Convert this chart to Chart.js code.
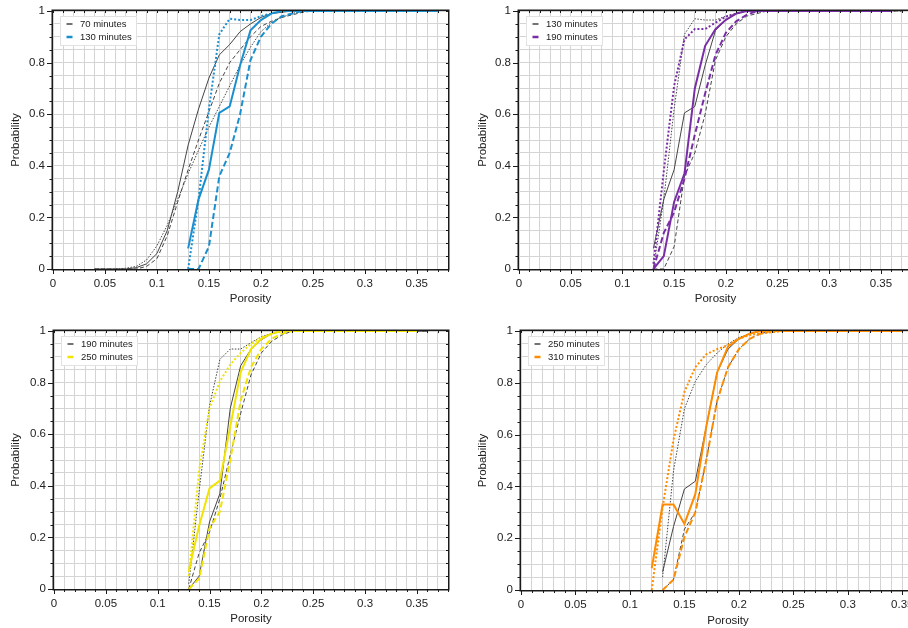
<!DOCTYPE html>
<html>
<head>
<meta charset="utf-8">
<script src="https://cdn.jsdelivr.net/npm/chart.js@4.4.1/dist/chart.umd.min.js"></script>
<style>
  html, body { margin: 0; padding: 0; background: #fff; overflow: hidden; }
  body { position: relative; width: 908px; height: 628px; }
  canvas { position: absolute; }
</style>
</head>
<body>
<canvas id="p1" width="460" height="310" style="left:0;top:0"></canvas>
<canvas id="p2" width="470" height="310" style="left:466px;top:0"></canvas>
<canvas id="p3" width="460" height="310" style="left:0;top:320px"></canvas>
<canvas id="p4" width="480" height="310" style="left:466px;top:320px"></canvas>
<script>
const N = null;

const porosity = [0.04, 0.05, 0.06, 0.07, 0.08, 0.09, 0.10, 0.11, 0.12, 0.13, 0.14, 0.15, 0.16, 0.17, 0.18, 0.19, 0.20, 0.21, 0.22, 0.23, 0.24, 0.25, 0.26, 0.27, 0.28, 0.29, 0.30, 0.31, 0.32, 0.33, 0.34, 0.35, 0.36, 0.37];

// 70 minutes
const solid70 = [0, 0, 0, 0, 0.005, 0.02, 0.06, 0.15, 0.30, 0.48, 0.62, 0.74, 0.83, 0.87, 0.92, 0.95, 0.975, 0.99, 0.995, 1, 1, 1, 1, 1, 1, 1, 1, 1, 1, 1, 1, 1, 1, 1];
const dashed70 = [0, 0, 0, 0, 0, 0.01, 0.04, 0.13, 0.26, 0.385, 0.50, 0.61, 0.72, 0.80, 0.85, 0.90, 0.94, 0.96, 0.975, 0.985, 0.995, 1, 1, 1, 1, 1, 1, 1, 1, 1, 1, 1, 1, 1];
const dotted70 = [0, 0, 0, 0.003, 0.01, 0.035, 0.09, 0.17, 0.27, 0.37, 0.46, 0.55, 0.63, 0.71, 0.79, 0.86, 0.92, 0.955, 0.975, 0.99, 1, 1, 1, 1, 1, 1, 1, 1, 1, 1, 1, 1, 1, 1];

// 130 minutes
const solid130 = [N, N, N, N, N, N, N, N, N, 0.08, 0.27, 0.385, 0.605, 0.63, 0.79, 0.925, 0.965, 0.99, 1, 1, 1, 1, 1, 1, 1, 1, 1, 1, 1, 1, 1, 1, 1, N];
const dashed130 = [N, N, N, N, N, N, N, N, N, 0, 0, 0.087, 0.36, 0.45, 0.60, 0.81, 0.90, 0.95, 0.98, 0.99, 1, 1, 1, 1, 1, 1, 1, 1, 1, 1, 1, 1, 1, 1];
const dotted130 = [N, N, N, N, N, N, N, N, N, 0, 0.27, 0.62, 0.91, 0.97, 0.965, 0.965, 0.98, 0.99, 1, 1, 1, 1, 1, 1, 1, 1, 1, 1, 1, 1, 1, 1, 1, 1];

// 190 minutes
const solid190 = [N, N, N, N, N, N, N, N, N, 0, 0.05, 0.26, 0.37, 0.70, 0.865, 0.93, 0.966, 0.99, 1, 1, 1, 1, 1, 1, 1, 1, 1, 1, 1, 1, 1, 1, 1, N];
const dashed190 = [N, N, N, N, N, N, N, N, N, 0, 0.14, 0.22, 0.35, 0.52, 0.68, 0.83, 0.915, 0.96, 0.985, 1, 1, 1, 1, 1, 1, 1, 1, 1, 1, 1, 1, 1, 1, N];
const dotted190 = [N, N, N, N, N, N, N, N, N, 0.02, 0.38, 0.71, 0.89, 0.93, 0.93, 0.955, 0.978, 0.99, 1, 1, 1, 1, 1, 1, 1, 1, 1, 1, 1, 1, 1, 1, 1, N];

// 250 minutes
const solid250 = [N, N, N, N, N, N, N, N, N, 0.07, 0.245, 0.39, 0.42, 0.63, 0.84, 0.93, 0.97, 0.99, 1, 1, 1, 1, 1, 1, 1, 1, 1, 1, 1, 1, 1, 1, N, N];
const dashed250 = [N, N, N, N, N, N, N, N, N, 0, 0.04, 0.235, 0.30, 0.50, 0.73, 0.86, 0.93, 0.97, 0.99, 1, 1, 1, 1, 1, 1, 1, 1, 1, 1, 1, 1, 1, N, N];
const dotted250 = [N, N, N, N, N, N, N, N, N, 0.05, 0.46, 0.70, 0.805, 0.87, 0.915, 0.95, 0.975, 0.99, 1, 1, 1, 1, 1, 1, 1, 1, 1, 1, 1, 1, 1, 1, N, N];

// 310 minutes
const solid310 = [N, N, N, N, N, N, N, N, 0.084, 0.33, 0.33, 0.255, 0.37, 0.63, 0.84, 0.94, 0.97, 0.99, 1, 1, 1, 1, 1, 1, 1, 1, 1, 1, 1, 1, 1, 1, N, N];
const dashed310 = [N, N, N, N, N, N, N, N, N, 0, 0.04, 0.205, 0.30, 0.50, 0.73, 0.86, 0.93, 0.97, 0.99, 1, 1, 1, 1, 1, 1, 1, 1, 1, 1, 1, 1, 1, N, N];
const dotted310 = [N, N, N, N, N, N, N, N, 0, 0.32, 0.58, 0.765, 0.86, 0.91, 0.93, 0.945, 0.97, 0.985, 0.99, 0.995, 1, 1, 1, 1, 1, 1, 1, 1, 1, 1, 1, 1, N, N];

const runs = {
  70: { label: "70 minutes", solid: solid70, dashed: dashed70, dotted: dotted70 },
  130: { label: "130 minutes", solid: solid130, dashed: dashed130, dotted: dotted130 },
  190: { label: "190 minutes", solid: solid190, dashed: dashed190, dotted: dotted190 },
  250: { label: "250 minutes", solid: solid250, dashed: dashed250, dotted: dotted250 },
  310: { label: "310 minutes", solid: solid310, dashed: dashed310, dotted: dotted310 },
};

const GRAY = "#444444";
const FONT = "'Liberation Sans', Arial, Helvetica, sans-serif";

function toPoints(vals) {
  return porosity.map((p, i) => ({ x: p, y: vals[i] }));
}

function lineSets(run, color, thick) {
  const w = thick ? 2 : 1;
  const dash = thick ? [6, 3] : [4, 2.5];
  const dot = thick ? [2, 2] : [1.5, 1.5];
  const base = { borderColor: color, borderWidth: w, pointRadius: 0, fill: false, tension: 0, spanGaps: false };
  return [
    { ...base, label: run.label, data: toPoints(run.solid) },
    { ...base, label: run.label + " dashed", data: toPoints(run.dashed), borderDash: dash },
    { ...base, label: run.label + " dotted", data: toPoints(run.dotted), borderDash: dot },
  ];
}

const framePlugin = {
  id: "frame",
  afterDraw(chart, args, opts) {
    const { ctx, chartArea: a, scales } = chart;
    const x = scales.x, y = scales.y;
    ctx.save();
    ctx.strokeStyle = "#1a1a1a";
    ctx.lineWidth = 1;
    ctx.beginPath();
    x.ticks.forEach((t, i) => {
      const px = Math.round(x.getPixelForTick(i)) + 0.5;
      const major = Math.round(t.value * 100) % 5 === 0;
      ctx.moveTo(px, a.bottom);
      ctx.lineTo(px, a.bottom + (major ? 5 : 3));
      ctx.moveTo(px, a.top);
      ctx.lineTo(px, a.top + 2);
    });
    y.ticks.forEach((t, i) => {
      const py = Math.round(y.getPixelForTick(i)) + 0.5;
      const major = Math.round(t.value * 100) % 20 === 0;
      ctx.moveTo(a.left - (major ? 6 : 3.5), py);
      ctx.lineTo(a.left, py);
      ctx.moveTo(a.right, py);
      ctx.lineTo(a.right - 2, py);
    });
    ctx.stroke();

    // frame sits just outside the plot so lines at 0 and 1 stay visible
    ctx.lineWidth = 1.5;
    ctx.strokeRect(a.left - 0.75, a.top - 0.75, a.right - a.left + 1.5, a.bottom - a.top + 1.5);

    // legend box inside the plot
    const x0 = a.left + 7, y0 = a.top + 5;
    ctx.fillStyle = "#fff";
    ctx.fillRect(x0, y0, 76, 29);
    ctx.lineWidth = 1;
    ctx.strokeStyle = "#e2e2e2";
    ctx.strokeRect(x0 + 0.5, y0 + 0.5, 76, 29);
    ctx.font = "9.5px " + FONT;
    ctx.textBaseline = "middle";
    ctx.textAlign = "left";
    opts.items.forEach((it, i) => {
      const ly = y0 + 8 + i * 13;
      ctx.strokeStyle = it.color;
      ctx.lineWidth = it.width;
      ctx.beginPath();
      ctx.moveTo(x0 + 6.5, ly);
      ctx.lineTo(x0 + 12.5, ly);
      ctx.stroke();
      ctx.fillStyle = "#222";
      ctx.fillText(it.label, x0 + 20, ly + 0.5);
    });
    ctx.restore();
  },
};

function makePanel(id, grayRun, colorRun, color, layout) {
  const datasets = [...lineSets(colorRun, color, true), ...lineSets(grayRun, GRAY, false)];
  return new Chart(document.getElementById(id), {
    type: "line",
    data: { datasets },
    plugins: [framePlugin],
    options: {
      responsive: false,
      animation: false,
      devicePixelRatio: 1,
      layout: { padding: { top: layout.top, right: layout.right, left: 0, bottom: 0 } },
      plugins: {
        legend: { display: false },
        tooltip: { enabled: false },
        frame: {
          items: [
            { label: grayRun.label, color: GRAY, width: 1.5 },
            { label: colorRun.label, color, width: 2.5 },
          ],
        },
      },
      scales: {
        x: {
          type: "linear",
          min: 0,
          max: 0.38,
          afterFit: (s) => { s.height = layout.xh; },
          ticks: {
            stepSize: 0.01,
            autoSkip: false,
            maxRotation: 0,
            padding: 4,
            color: "#222",
            font: { family: FONT, size: 11.5 },
            callback: (v) => {
              const k = Math.round(v * 100);
              return k % 5 === 0 ? String(k / 100) : "";
            },
          },
          grid: { color: "#d4d4d4", lineWidth: 1, tickLength: 4, tickColor: "rgba(0,0,0,0)" },
          border: { display: false },
          title: { display: true, text: "Porosity", color: "#222", font: { family: FONT, size: 11.5 }, padding: { top: 0, bottom: layout.xtp } },
        },
        y: {
          min: 0,
          max: 1,
          afterFit: (s) => { s.width = layout.yw; },
          ticks: {
            stepSize: 0.05,
            autoSkip: false,
            padding: 2,
            color: "#222",
            font: { family: FONT, size: 11.5 },
            callback: (v) => {
              const k = Math.round(v * 100);
              return k % 20 === 0 ? String(k / 100) : "";
            },
          },
          grid: { color: "#d4d4d4", lineWidth: 1, tickLength: 6, tickColor: "rgba(0,0,0,0)" },
          border: { display: false },
          title: { display: true, text: "Probability", color: "#222", font: { family: FONT, size: 11.5 }, padding: { top: layout.ytp, bottom: 0 } },
        },
      },
    },
  });
}

makePanel("p1", runs[70], runs[130], "#1a8fcf", { top: 11, right: 12, xh: 41, yw: 53, xtp: 4, ytp: 9 });
makePanel("p2", runs[130], runs[190], "#7a2ea6", { top: 11, right: 24, xh: 41, yw: 53, xtp: 4, ytp: 10 });
makePanel("p3", runs[190], runs[250], "#f2e300", { top: 11, right: 12, xh: 41, yw: 54, xtp: 4, ytp: 9 });
makePanel("p4", runs[250], runs[310], "#ff8c00", { top: 11, right: 11, xh: 40, yw: 55, xtp: 2, ytp: 10 });
</script>
</body>
</html>
